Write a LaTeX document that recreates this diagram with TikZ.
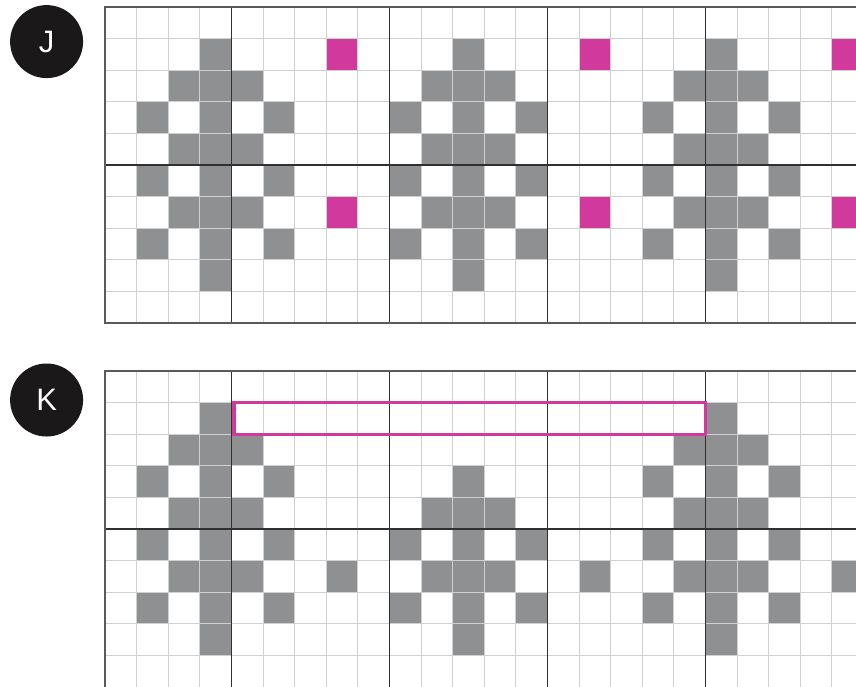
\documentclass[tikz,border=0pt]{standalone}
\usepackage{fontspec}
\setmainfont{Liberation Sans}
\definecolor{cellgray}{HTML}{8F9092}
\definecolor{magpink}{HTML}{D13A9C}
\definecolor{thinln}{HTML}{D0D0D0}
\definecolor{thickln}{HTML}{303030}
\definecolor{borderln}{HTML}{5A5A5A}
\definecolor{badgefill}{HTML}{1B1819}
\tikzset{
  badge/.style={circle,fill=badgefill,minimum size=73pt,inner sep=0pt,text=white,font=\fontsize{31}{31}\selectfont},
  thingrid/.style={draw=thinln,line width=0.9pt},
  thickgrid/.style={draw=thickln,line width=1.4pt},
  bordergrid/.style={draw=borderln,line width=2pt},
  graycell/.style={fill=cellgray},
  pinkcell/.style={fill=magpink},
  pinkframe/.style={draw=magpink,line width=3.4pt}
}
\newcommand\mymotif[1]{%
  \foreach \dx/\r in {0/1,-1/2,0/2,1/2,-2/3,0/3,2/3,-1/4,0/4,1/4,-2/5,0/5,2/5,-1/6,0/6,1/6,-2/7,0/7,2/7,0/8}
    {\fill[graycell] ({#1+\dx},\r) rectangle ++(1,1);}}
\newcommand\mygridlines{%
  \foreach \c in {1,...,24} {\draw[thingrid] (\c,0) -- (\c,10);}
  \foreach \r in {1,...,9} {\draw[thingrid] (0,\r) -- (24.5,\r);}
  \foreach \c in {4,9,14,19,24} {\draw[thickgrid] (\c,0) -- (\c,10);}
  \draw[thickgrid] (0,5) -- (24.5,5);}
\begin{document}
\begin{tikzpicture}[x=1pt,y=-1pt]
\useasboundingbox (0,0) rectangle (856,686);
\clip (0,0) rectangle (856,686);
\fill[white] (0,0) rectangle (856,686);
% Grid J
\begin{scope}[shift={(105,6.8)},x=31.6pt,y=-31.6pt]
  \mymotif{3}\mymotif{11}\mymotif{19}
  \foreach \c/\r in {7/1,15/1,23/1,7/6,15/6,23/6}
    {\fill[pinkcell] (\c,\r) rectangle ++(1,1);}
  \mygridlines
  \draw[bordergrid] (24.5,0) -- (0,0) -- (0,10) -- (24.5,10);
\end{scope}
% Grid K
\begin{scope}[shift={(105,371)},x=31.6pt,y=-31.6pt]
  \mymotif{3}\mymotif{19}
  \foreach \dx/\r in {0/3,-1/4,0/4,1/4,-2/5,0/5,2/5,-1/6,0/6,1/6,-2/7,0/7,2/7,0/8}
    {\fill[graycell] ({11+\dx},\r) rectangle ++(1,1);}
  \foreach \c/\r in {7/6,15/6,23/6}
    {\fill[graycell] (\c,\r) rectangle ++(1,1);}
  \mygridlines
  \draw[bordergrid] (24.5,0) -- (0,0) -- (0,10.5);
  \draw[pinkframe] (4.08,1) rectangle (19,2);
\end{scope}
\node[badge] (J) at (46.6,41.6) {J};
\node[badge] (K) at (46.6,400) {K};
\end{tikzpicture}
\end{document}
